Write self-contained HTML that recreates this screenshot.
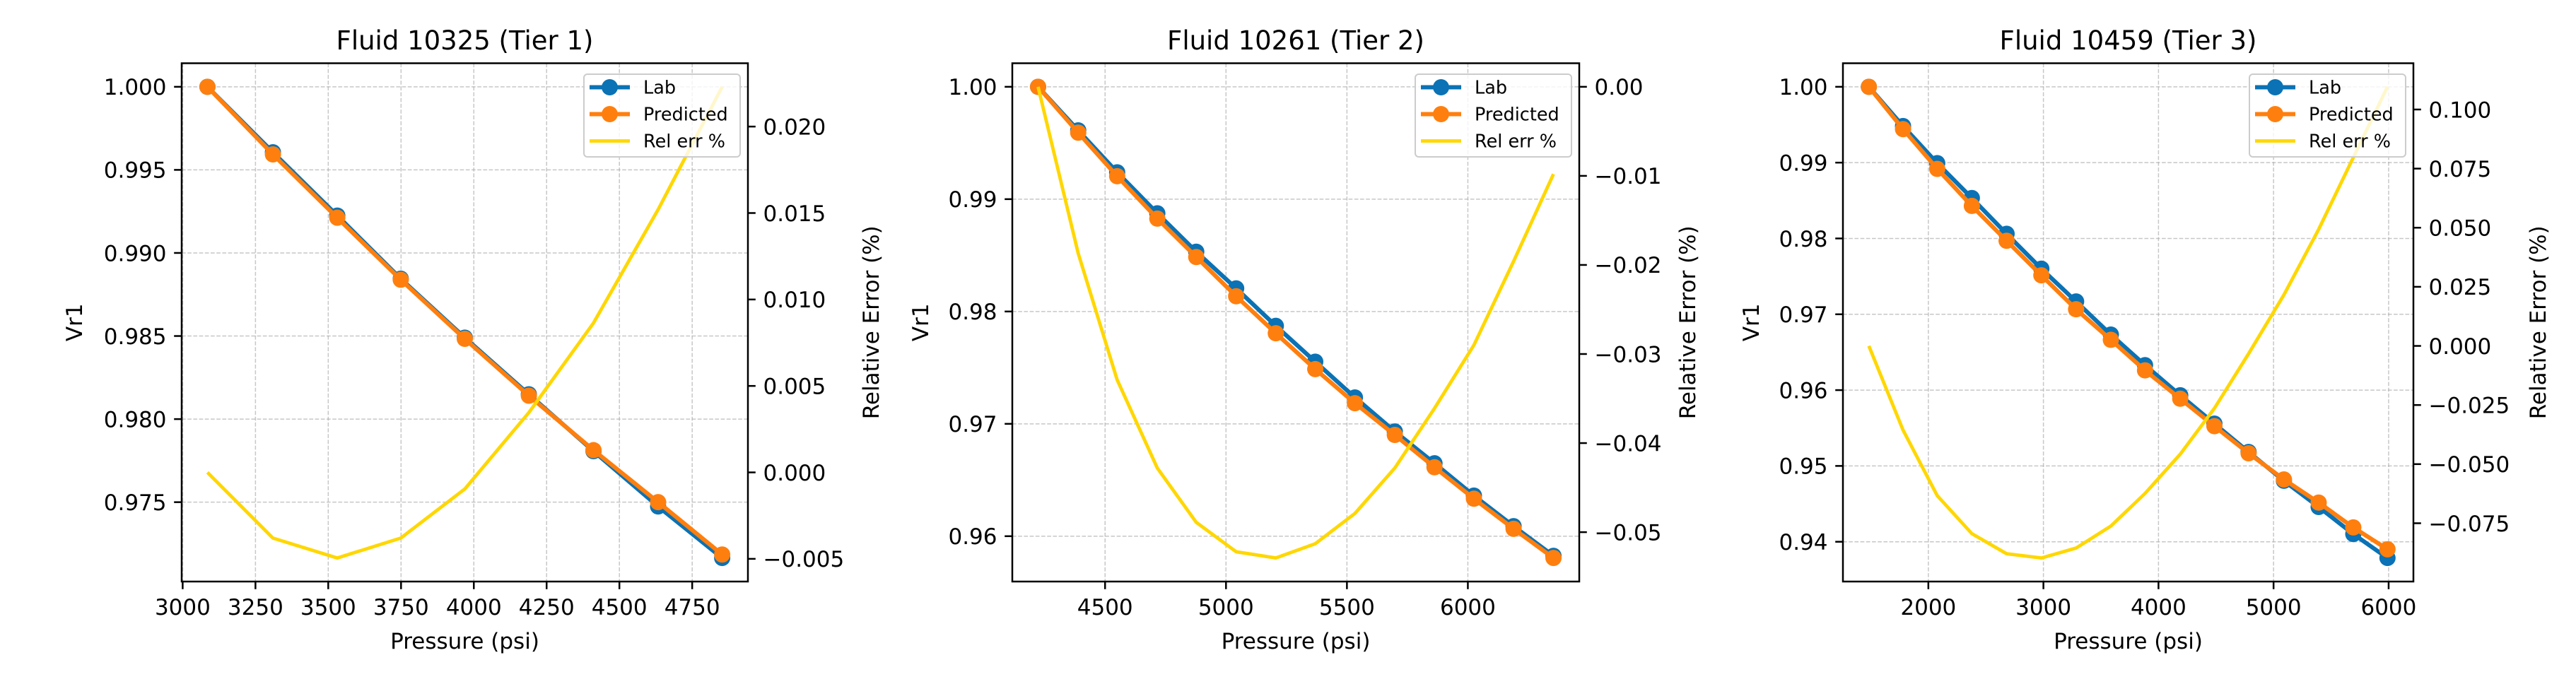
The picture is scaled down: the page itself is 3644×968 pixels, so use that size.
<!DOCTYPE html>
<html><head><meta charset="utf-8">
<style>
html,body{margin:0;padding:0;background:#fff;}
svg{display:block;font-family:"DejaVu Sans","Liberation Sans",sans-serif;}
</style></head>
<body>
<svg id="fig" width="3644" height="968" viewBox="0 0 3644 968" xmlns="http://www.w3.org/2000/svg"></svg>
<script>
// ---- Data ----
const p1Pressure=[3085,3310,3531,3749,3969,4189,4411,4633,4853];
const p1Lab=[1.0,0.99606,0.99225,0.98845,0.98490,0.98149,0.97807,0.97474,0.97164];
const p1Pred=[1.0,0.99593,0.99212,0.98839,0.98483,0.98141,0.97813,0.975,0.97185];
const p1Err=[0.0,-0.0038,-0.00495,-0.0038,-0.00096,0.00346,0.00864,0.0152,0.0223];
const p1XTicks=[3000,3250,3500,3750,4000,4250,4500,4750];
const p1YTicks=[0.975,0.980,0.985,0.990,0.995,1.000];
const p1RTicks=[-0.005,0.000,0.005,0.010,0.015,0.020];

const p2Pressure=[4223,4389,4550,4716,4877,5042,5206,5369,5533,5698,5862,6025,6189,6354];
const p2Lab=[1.0,0.99612,0.99239,0.98874,0.98532,0.98206,0.97872,0.97553,0.97235,0.96932,0.96649,0.96361,0.96089,0.95825];
const p2Pred=[1.0,0.99592,0.99204,0.98827,0.98485,0.98136,0.97806,0.97487,0.97184,0.96901,0.96614,0.96334,0.96066,0.95806];
const p2Err=[0.0,-0.0187,-0.0329,-0.0428,-0.0489,-0.0522,-0.0529,-0.0513,-0.0479,-0.0428,-0.0361,-0.029,-0.0196,-0.0098];
const p2XTicks=[4500,5000,5500,6000];
const p2YTicks=[0.96,0.97,0.98,0.99,1.00];
const p2RTicks=[-0.05,-0.04,-0.03,-0.02,-0.01,0.00];

const p3Pressure=[1483,1780,2077,2378,2680,2982,3284,3586,3883,4189,4486,4783,5090,5392,5693,5990];
const p3Lab=[1.0,0.99482,0.98993,0.98533,0.98061,0.97601,0.97169,0.96732,0.96329,0.95932,0.95558,0.95184,0.94804,0.94459,0.94102,0.93786];
const p3Pred=[1.0,0.99442,0.98918,0.98429,0.97969,0.97514,0.97066,0.96663,0.9626,0.95886,0.95524,0.95167,0.94822,0.94517,0.94189,0.93901];
const p3Err=[0.0,-0.0356,-0.0633,-0.0794,-0.0879,-0.0897,-0.0855,-0.0762,-0.0624,-0.0458,-0.0264,-0.0033,0.0216,0.0493,0.0797,0.1096];
const p3XTicks=[2000,3000,4000,5000,6000];
const p3YTicks=[0.94,0.95,0.96,0.97,0.98,0.99,1.00];
const p3RTicks=[-0.075,-0.050,-0.025,0.000,0.025,0.050,0.075,0.100];

const titles=["Fluid 10325 (Tier 1)","Fluid 10261 (Tier 2)","Fluid 10459 (Tier 3)"];

const NS="http://www.w3.org/2000/svg";
const svg=document.getElementById('fig');
const BLUE="#0a72b5",ORANGE="#ff7f0e",GOLD="#ffd700";
function mk(tag,attrs,parent){const e=document.createElementNS(NS,tag);for(const k in attrs)e.setAttribute(k,attrs[k]);(parent||svg).appendChild(e);return e;}
function fmt(v,d){const s=Math.abs(v).toFixed(d);return (v<-1e-12?"\u2212":"")+s;}
function lims(arrs){let lo=Infinity,hi=-Infinity;arrs.forEach(a=>a.forEach(v=>{lo=Math.min(lo,v);hi=Math.max(hi,v);}));const p=(hi-lo)*0.05;return [lo-p,hi+p];}

function panel(idx,L,R,xs,lab,pred,err,xt,yt,rt,yd,rd,vrX,reX){
  const T=89.5,B=823;
  const g=mk('g',{});
  
  
  const xl=lims([xs]),yl=lims([lab,pred]),rl=lims([err]);
  const X=v=>L+(v-xl[0])/(xl[1]-xl[0])*(R-L);
  const Y=v=>B-(v-yl[0])/(yl[1]-yl[0])*(B-T);
  const RY=v=>B-(v-rl[0])/(rl[1]-rl[0])*(B-T);
  xt.forEach(v=>{const l=mk('line',{x1:X(v),x2:X(v),y1:T,y2:B,stroke:'#b0b0b0','stroke-width':1.5,'stroke-dasharray':'5.7,2.5',opacity:0.7},g);
    
    });
  yt.forEach(v=>{const l=mk('line',{x1:L,x2:R,y1:Y(v),y2:Y(v),stroke:'#b0b0b0','stroke-width':1.5,'stroke-dasharray':'5.7,2.5',opacity:0.7},g);
    
    });
  const series=[[lab,BLUE,'lab'],[pred,ORANGE,'predicted']];
  series.forEach(s=>{
    const pl=mk('polyline',{points:xs.map((x,i)=>X(x)+','+Y(s[0][i])).join(' '),fill:'none',stroke:s[1],'stroke-width':6,'stroke-linejoin':'round'},g);
    
    
    xs.forEach((x,i)=>{const c=mk('circle',{cx:X(x),cy:Y(s[0][i]),r:11.5,fill:s[1]},g);
      
      });
  });
  const el=mk('polyline',{points:xs.map((x,i)=>X(x)+','+RY(err[i])).join(' '),fill:'none',stroke:GOLD,'stroke-width':4.8,'stroke-linejoin':'round'},g);
  
  
  const sp=mk('rect',{x:L,y:T,width:R-L,height:B-T,fill:'none',stroke:'#000','stroke-width':2.5},g);
  
  
  xt.forEach(v=>{mk('line',{x1:X(v),x2:X(v),y1:B,y2:B+10.8,stroke:'#000','stroke-width':2.5},g);
    const t=mk('text',{x:X(v),y:B+47,'font-size':31,'text-anchor':'middle',fill:'#000'},g);t.textContent=String(v);
    
    });
  yt.forEach(v=>{mk('line',{x1:L,x2:L-10.8,y1:Y(v),y2:Y(v),stroke:'#000','stroke-width':2.5},g);
    const t=mk('text',{x:L-21.5,y:Y(v)+11.3,'font-size':31,'text-anchor':'end',fill:'#000'},g);t.textContent=fmt(v,yd);
    
    });
  rt.forEach(v=>{mk('line',{x1:R,x2:R+10.8,y1:RY(v),y2:RY(v),stroke:'#000','stroke-width':2.5},g);
    const t=mk('text',{x:R+21.5,y:RY(v)+11.3,'font-size':31,'text-anchor':'start',fill:'#000'},g);t.textContent=fmt(v,rd);
    
    });
  const ti=mk('text',{x:(L+R)/2,y:70,'font-size':37,'text-anchor':'middle',fill:'#000'},g);ti.textContent=titles[idx];
  
  
  const xl2=mk('text',{x:(L+R)/2,y:918,'font-size':31,'text-anchor':'middle',fill:'#000'},g);xl2.textContent='Pressure (psi)';
  
  
  const yl1=mk('text',{x:0,y:0,'font-size':31,'text-anchor':'middle',fill:'#000',transform:`translate(${vrX+11},${(T+B)/2}) rotate(-90)`},g);yl1.textContent='Vr1';
  
  
  const yl2=mk('text',{x:0,y:0,'font-size':31,'text-anchor':'middle',fill:'#000',transform:`translate(${reX+11},${(T+B)/2}) rotate(-90)`},g);yl2.textContent='Relative Error (%)';
  
  
  const lx=R-11-221,ly=T+15.5;
  const lg=mk('g',{},g);
  
  
  mk('rect',{x:lx,y:ly,width:221,height:117,rx:5,fill:'#fff','fill-opacity':0.8,stroke:'#cccccc','stroke-width':2},lg);
  const entries=[['Lab',BLUE,true],['Predicted',ORANGE,true],['Rel err %',GOLD,false]];
  entries.forEach((e,i)=>{
    const ry=ly+18.5+i*38;
    const eg=mk('g',{},lg);
    
    
    mk('line',{x1:lx+8,x2:lx+65,y1:ry,y2:ry,stroke:e[1],'stroke-width':e[2]?6:4.8},eg);
    if(e[2])mk('circle',{cx:lx+36.5,cy:ry,r:11.5,fill:e[1]},eg);
    const t=mk('text',{x:lx+84,y:ry+9,'font-size':25.5,fill:'#000'},eg);t.textContent=e[0];
  });
}
panel(0,257,1058,p1Pressure,p1Lab,p1Pred,p1Err,p1XTicks,p1YTicks,p1RTicks,3,3,105,1232);
panel(1,1432,2234,p2Pressure,p2Lab,p2Pred,p2Err,p2XTicks,p2YTicks,p2RTicks,2,2,1302,2387);
panel(2,2607,3414,p3Pressure,p3Lab,p3Pred,p3Err,p3XTicks,p3YTicks,p3RTicks,2,3,2477,3590);
</script>
</body></html>
